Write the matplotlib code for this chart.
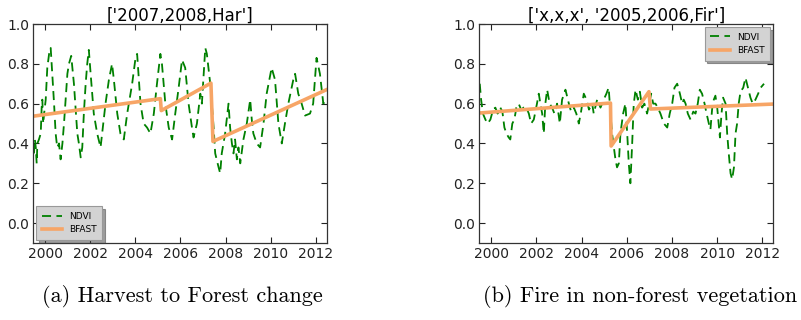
import matplotlib
matplotlib.use("Agg")
import matplotlib.pyplot as plt

# ---------------- data ----------------
har_years = [1999.51, 1999.55, 1999.59, 1999.63, 1999.66, 1999.73, 1999.81, 1999.85, 1999.88,
             1999.92, 1999.96, 2000.03,
             2000.10, 2000.18, 2000.25, 2000.32, 2000.40, 2000.47, 2000.54, 2000.62,
             2000.69, 2000.77, 2000.84, 2000.99, 2001.06, 2001.16, 2001.28, 2001.43,
             2001.50, 2001.58, 2001.65, 2001.72, 2001.80, 2001.87, 2001.94, 2002.02,
             2002.16, 2002.31, 2002.46, 2002.53, 2002.68, 2002.83, 2002.97, 2003.05,
             2003.20, 2003.34, 2003.49, 2003.64, 2003.86, 2004.01, 2004.08, 2004.23,
             2004.37, 2004.52, 2004.67, 2004.82, 2004.96, 2005.11, 2005.18, 2005.33,
             2005.48, 2005.63, 2005.77, 2005.92, 2006.07, 2006.21, 2006.36, 2006.51,
             2006.58, 2006.73, 2006.88, 2006.95, 2007.10, 2007.17, 2007.32, 2007.47,
             2007.54, 2007.69, 2007.76, 2007.83, 2007.98, 2008.05, 2008.13, 2008.20, 2008.28,
             2008.35, 2008.42, 2008.50, 2008.57, 2008.65, 2008.79, 2008.94, 2009.09, 2009.16,
             2009.23, 2009.38, 2009.53, 2009.68, 2009.82, 2010.04, 2010.19, 2010.34,
             2010.49, 2010.63, 2010.78, 2011.00, 2011.08, 2011.22, 2011.37, 2011.52,
             2011.74, 2011.88, 2012.03, 2012.18, 2012.33, 2012.44]
har_ndvi = [0.35, 0.42, 0.38, 0.30, 0.40, 0.42, 0.45, 0.58, 0.62,
            0.50, 0.55, 0.62,
            0.78, 0.85, 0.88, 0.75, 0.60, 0.45, 0.38, 0.40,
            0.32, 0.40, 0.50, 0.75, 0.80, 0.84, 0.70, 0.45,
            0.40, 0.33, 0.38, 0.55, 0.70, 0.80, 0.87, 0.75,
            0.55, 0.45, 0.38, 0.45, 0.60, 0.72, 0.80, 0.72,
            0.55, 0.45, 0.42, 0.55, 0.70, 0.83, 0.85, 0.60,
            0.50, 0.48, 0.45, 0.55, 0.70, 0.85, 0.80, 0.60,
            0.48, 0.42, 0.55, 0.68, 0.82, 0.78, 0.60, 0.48,
            0.43, 0.50, 0.65, 0.60, 0.88, 0.85, 0.70, 0.48,
            0.35, 0.28, 0.25, 0.35, 0.45, 0.52, 0.60, 0.48, 0.40,
            0.35, 0.42, 0.32, 0.38, 0.30, 0.42, 0.50, 0.62, 0.52,
            0.45, 0.40, 0.38, 0.50, 0.65, 0.78, 0.72, 0.50,
            0.40, 0.50, 0.60, 0.72, 0.75, 0.65, 0.60, 0.54,
            0.55, 0.60, 0.83, 0.75, 0.60, 0.62]
har_bfast_years = [1999.48, 2005.11, 2005.15, 2007.35, 2007.44, 2012.47]
har_bfast = [0.537, 0.625, 0.565, 0.703, 0.410, 0.670]

fir_years = [1999.50, 1999.56, 1999.64, 1999.75, 1999.85, 1999.97, 2000.09, 2000.19,
             2000.29, 2000.41, 2000.50, 2000.59, 2000.68, 2000.78, 2000.85, 2000.94,
             2001.03, 2001.12, 2001.22, 2001.33, 2001.44, 2001.56, 2001.67, 2001.77,
             2001.89, 2002.03, 2002.11, 2002.18, 2002.26, 2002.33, 2002.40, 2002.48,
             2002.59, 2002.70, 2002.80, 2002.92, 2003.04, 2003.14, 2003.29, 2003.44,
             2003.54, 2003.66, 2003.77, 2003.88, 2003.98, 2004.10, 2004.22, 2004.33,
             2004.47, 2004.54, 2004.69, 2004.84, 2004.98, 2005.10, 2005.20, 2005.28,
             2005.35, 2005.43, 2005.50, 2005.57, 2005.65, 2005.72, 2005.84, 2005.94,
             2006.02, 2006.09, 2006.16, 2006.24, 2006.31, 2006.39, 2006.49, 2006.58,
             2006.68, 2006.78, 2006.90, 2006.99, 2007.08, 2007.17, 2007.27, 2007.37,
             2007.49, 2007.64, 2007.79, 2007.90, 2008.01, 2008.11, 2008.23, 2008.35,
             2008.45, 2008.52, 2008.60, 2008.70, 2008.82, 2008.94, 2009.04, 2009.14,
             2009.23, 2009.33, 2009.44, 2009.53, 2009.63, 2009.70, 2009.78, 2009.85,
             2009.92, 2010.00, 2010.12, 2010.19, 2010.26, 2010.37, 2010.44, 2010.51,
             2010.59, 2010.66, 2010.74, 2010.81, 2010.88, 2010.95, 2011.03, 2011.15,
             2011.25, 2011.36, 2011.47, 2011.57, 2011.69, 2011.81, 2011.92, 2012.07]
fir_ndvi = [0.70, 0.62, 0.55, 0.52, 0.50, 0.52, 0.57, 0.58,
            0.55, 0.58, 0.56, 0.48, 0.45, 0.43, 0.42, 0.50,
            0.52, 0.58, 0.60, 0.57, 0.58, 0.58, 0.55, 0.50,
            0.52, 0.60, 0.65, 0.60, 0.55, 0.45, 0.60, 0.67,
            0.60, 0.58, 0.55, 0.60, 0.50, 0.62, 0.67, 0.60,
            0.56, 0.58, 0.55, 0.50, 0.56, 0.65, 0.62, 0.57,
            0.60, 0.55, 0.62, 0.58, 0.62, 0.65, 0.68, 0.55,
            0.45, 0.38, 0.32, 0.28, 0.30, 0.45, 0.55, 0.60,
            0.45, 0.30, 0.20, 0.40, 0.60, 0.67, 0.62, 0.66,
            0.58, 0.60, 0.55, 0.60, 0.65, 0.60, 0.60, 0.58,
            0.55, 0.50, 0.48, 0.55, 0.60, 0.68, 0.70, 0.65,
            0.60, 0.62, 0.60, 0.55, 0.52, 0.56, 0.55, 0.60,
            0.67, 0.65, 0.60, 0.55, 0.50, 0.47, 0.58, 0.62,
            0.64, 0.58, 0.43, 0.55, 0.63, 0.60, 0.45, 0.35,
            0.25, 0.22, 0.28, 0.45, 0.50, 0.60, 0.66, 0.68,
            0.73, 0.68, 0.63, 0.60, 0.62, 0.65, 0.68, 0.70]
fir_bfast_years = [1999.50, 2005.28, 2005.31, 2006.98, 2007.05, 2012.50]
fir_bfast = [0.553, 0.603, 0.387, 0.660, 0.573, 0.598]

titles = ["['2007,2008,Har']", "['x,x,x', '2005,2006,Fir']"]
captions = ["(a) Harvest to Forest change", "(b) Fire in non-forest vegetation"]
xticks = [2000, 2002, 2004, 2006, 2008, 2010, 2012]
yticks = [0.0, 0.2, 0.4, 0.6, 0.8, 1.0]

# ---------------- figure ----------------
fig = plt.figure(figsize=(8.01, 3.2), dpi=100)
axes_rects = [[33.3 / 801, 1 - 243 / 320, 293.4 / 801, 219 / 320],
              [479.3 / 801, 1 - 243 / 320, 294 / 801, 219 / 320]]
caption_x = [182 / 801, 640 / 801]
legend_locs = ["lower left", "upper right"]

series = [(har_years, har_ndvi, har_bfast_years, har_bfast),
          (fir_years, fir_ndvi, fir_bfast_years, fir_bfast)]

ndvi_color = (0.0, 0.5, 0.0)
bfast_color = "#f7a566"

for i, (yrs, nd, byrs, bf) in enumerate(series):
    ax = fig.add_axes(axes_rects[i])
    ax.plot(yrs, nd, linestyle="--", color=ndvi_color, linewidth=1.3,
            dashes=(5, 3), label="NDVI")
    ax.plot(byrs, bf, color=bfast_color, linewidth=2.6, label="BFAST")
    ax.set_xlim(1999.48, 2012.48)
    ax.set_ylim(-0.1, 1.0)
    ax.set_xticks(xticks)
    ax.set_xticklabels([str(t) for t in xticks])
    ax.set_yticks(yticks)
    ax.set_yticklabels(["%.1f" % t for t in yticks])
    ax.tick_params(direction="in", length=4, labelsize=10, pad=3,
                   top=True, right=True, colors="#222222")
    for s in ax.spines.values():
        s.set_color("#333333")
        s.set_linewidth(0.9)
    ax.set_title(titles[i], fontsize=12, pad=2)
    leg = ax.legend(loc=legend_locs[i], fontsize=6.5, shadow=True, fancybox=False,
                    framealpha=1.0, handlelength=2.2, borderpad=0.6,
                    labelspacing=0.5, borderaxespad=0.35)
    leg.get_frame().set_facecolor("#d3d3d3")
    leg.get_frame().set_edgecolor("#999999")
    leg.get_frame().set_linewidth(0.8)
    fig.text(caption_x[i], 0.072, captions[i], ha="center", va="center",
             fontsize=16, family="cmr10")

fig.savefig("out.png", dpi=100)
